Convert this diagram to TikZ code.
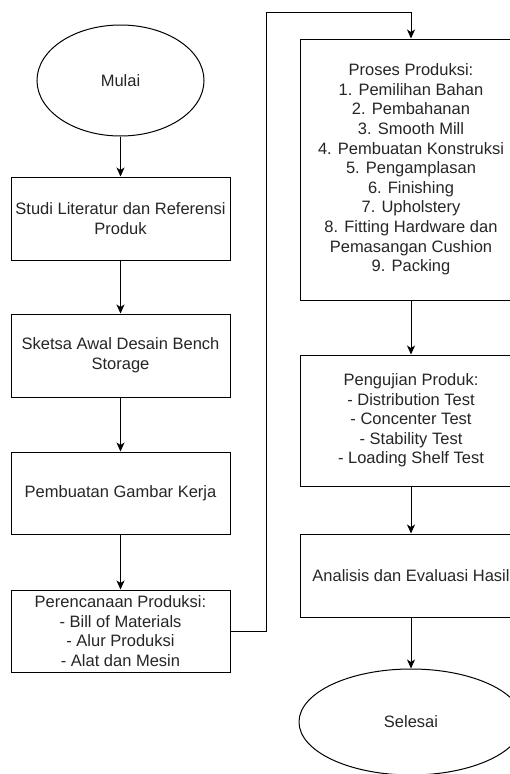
\documentclass[tikz,border=0pt]{standalone}
\usepackage{fontspec}
\setmainfont{Liberation Sans}
\usetikzlibrary{shapes.geometric,arrows.meta}
\begin{document}
\begin{tikzpicture}[x=1pt,y=-1pt,
  every node/.style={font=\fontsize{16.5}{19.6}\selectfont, text=black!85, align=center},
  procbox/.style={draw, line width=1pt, minimum width=219pt, inner sep=0pt},
  term/.style={draw, ellipse, line width=1pt, inner sep=0pt},
  flow/.style={line width=1pt, -{Stealth[length=9pt,width=8pt,inset=2.5pt]}}]
\useasboundingbox (0,0) rectangle (510,774);
\clip (0,0) rectangle (510,774);
\fill[white] (0,0) rectangle (510,774);
% left column
\node[term, minimum width=167pt, minimum height=111pt] (mulai) at (120.5,80.5) {Mulai};
\node[procbox, minimum height=83pt] (studi) at (120.5,218.5) {Studi Literatur dan Referensi\\Produk};
\node[procbox, minimum height=83pt] (sketsa) at (120.5,355.5) {Sketsa Awal Desain Bench\\Storage};
\node[procbox, minimum height=82pt] (gambar) at (120.5,493) {Pembuatan Gambar Kerja};
\node[procbox, minimum height=82pt] (rencana) at (120.5,631) {Perencanaan Produksi:\\- Bill of Materials\\- Alur Produksi\\- Alat dan Mesin};
% right column
\node[procbox, minimum width=222pt, minimum height=261pt] (proses) at (411,169.5) {Proses Produksi:\\1. Pemilihan Bahan\\2. Pembahanan\\3. Smooth Mill\\4. Pembuatan Konstruksi\\5. Pengamplasan\\6. Finishing\\7. Upholstery\\8. Fitting Hardware dan\\Pemasangan Cushion\\9. Packing};
\node[procbox, minimum width=222pt, minimum height=131pt] (uji) at (411,420.5) {Pengujian Produk:\\- Distribution Test\\- Concenter Test\\- Stability Test\\- Loading Shelf Test};
\node[procbox, minimum width=222pt, minimum height=83pt] (analisis) at (411,575.5) {Analisis dan Evaluasi Hasil};
\node[term, minimum width=224pt, minimum height=106pt] (selesai) at (411,722) {Selesai};
\coordinate (turnA) at (266,12);
% connectors
\draw[flow] (mulai) -- (studi);
\draw[flow] (studi) -- (sketsa);
\draw[flow] (sketsa) -- (gambar);
\draw[flow] (gambar) -- (rencana);
\draw[flow] (rencana.east) -| (turnA) -| (proses.north);
\draw[flow] (proses) -- (uji);
\draw[flow] (uji) -- (analisis);
\draw[flow] (analisis) -- (selesai);
\end{tikzpicture}
\end{document}
